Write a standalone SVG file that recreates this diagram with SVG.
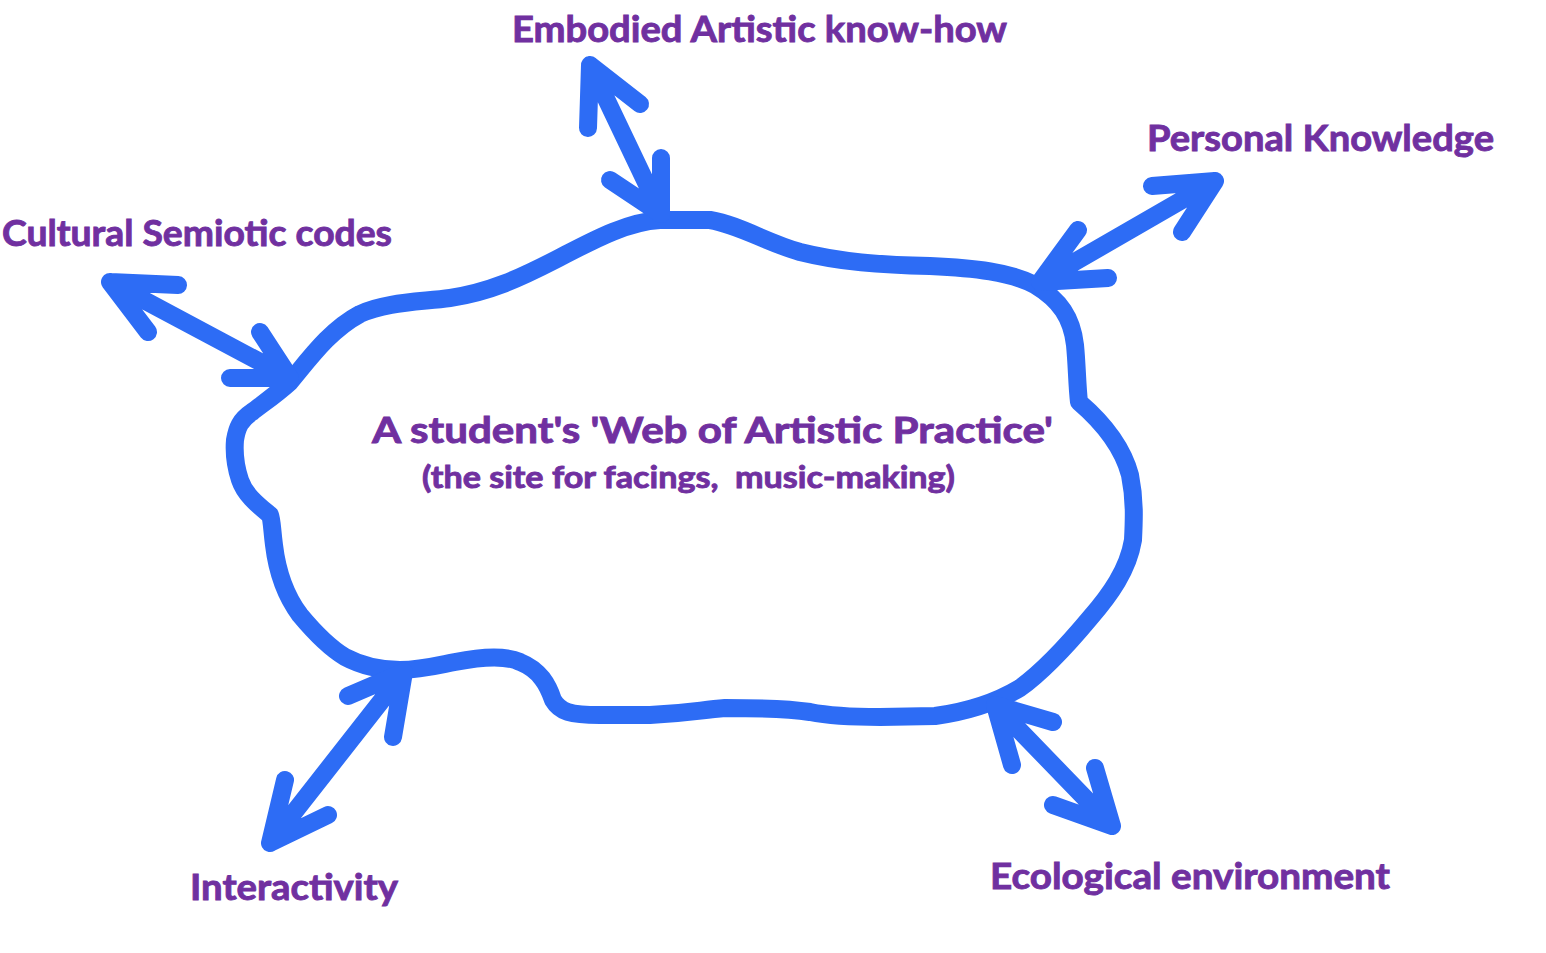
<svg xmlns="http://www.w3.org/2000/svg" width="1546" height="953" viewBox="0 0 1546 953">
<style>
.ln{fill:none;stroke:#2d6cf5;stroke-width:18;stroke-linecap:round;stroke-linejoin:round}
.lb{font-family:Lato,"Open Sans","Liberation Sans",sans-serif;font-weight:bold;fill:#7030a0;stroke:#7030a0;stroke-width:0.9}
</style>
<rect width="1546" height="953" fill="#ffffff"/>
<g id="web">
<path class="ln" d="M290,382 C310,358 330,330 360,314 C385,302 420,302 450,298 C490,292 520,278 555,260 C590,242 625,222 660,220 L710,220 C740,225 765,242 800,252 C840,262 880,265 930,266 C975,268 1010,272 1035,285 C1060,300 1072,318 1075,345 C1077,365 1077,385 1079,402 C1100,420 1122,445 1130,475 C1135,500 1134,520 1133,540 C1128,570 1110,595 1090,618 C1070,642 1045,670 1020,688 C995,703 965,712 935,716 L880,717 C850,717 830,716 810,712 C790,709 765,708 725,708 C700,710 690,713 650,715 L600,715 C570,715 560,712 553,700 C548,685 540,670 520,662 C505,655 480,657 455,662 C435,666 420,670 400,670 C380,670 360,665 345,657 C330,648 315,633 300,615 C285,595 277,570 274,545 C272,530 272,520 270,515 C258,505 245,495 240,480 C235,465 234,452 235,440 C237,428 240,420 252,412 C265,402 278,393 290,382 Z"/>
<text class="lb" x="372" y="443" font-size="37" textLength="681" lengthAdjust="spacingAndGlyphs">A student's 'Web of Artistic Practice'</text>
<text class="lb" x="422" y="488" font-size="31" textLength="533" lengthAdjust="spacingAndGlyphs" xml:space="preserve">(the site for facings,  music-making)</text>
</g>
<g id="connectors">
<path class="ln" d="M110,282 L290,378 M110,282 L178,285 M110,282 L148,332 M290,378 L260,332 M290,378 L230,378"/>
<path class="ln" d="M590,65 L661,214 M590,65 L640,104 M590,65 L588,128 M661,214 L661,158 M661,214 L610,180"/>
<path class="ln" d="M1215,181 L1040,282 M1215,181 L1152,186 M1215,181 L1182,232 M1040,282 L1078,230 M1040,282 L1108,278"/>
<path class="ln" d="M404,672 L270,843 M270,843 L285,780 M270,843 L328,815 M404,672 L348,696 M404,672 L393,737"/>
<path class="ln" d="M995,705 L1112,826 M1112,826 L1095,768 M1112,826 L1053,805 M995,705 L1053,722 M995,705 L1012,765"/>
</g>
<g id="embodied"><text class="lb" x="512" y="42" font-size="37" textLength="495" lengthAdjust="spacingAndGlyphs">Embodied Artistic know-how</text></g>
<g id="personal"><text class="lb" x="1147" y="151" font-size="37" textLength="347" lengthAdjust="spacingAndGlyphs">Personal Knowledge</text></g>
<g id="cultural"><text class="lb" x="2" y="246" font-size="37" textLength="390" lengthAdjust="spacingAndGlyphs">Cultural Semiotic codes</text></g>
<g id="interactivity"><text class="lb" x="190" y="900" font-size="37" textLength="208" lengthAdjust="spacingAndGlyphs">Interactivity</text></g>
<g id="ecological"><text class="lb" x="990" y="889" font-size="37" textLength="400" lengthAdjust="spacingAndGlyphs">Ecological environment</text></g>
</svg>
